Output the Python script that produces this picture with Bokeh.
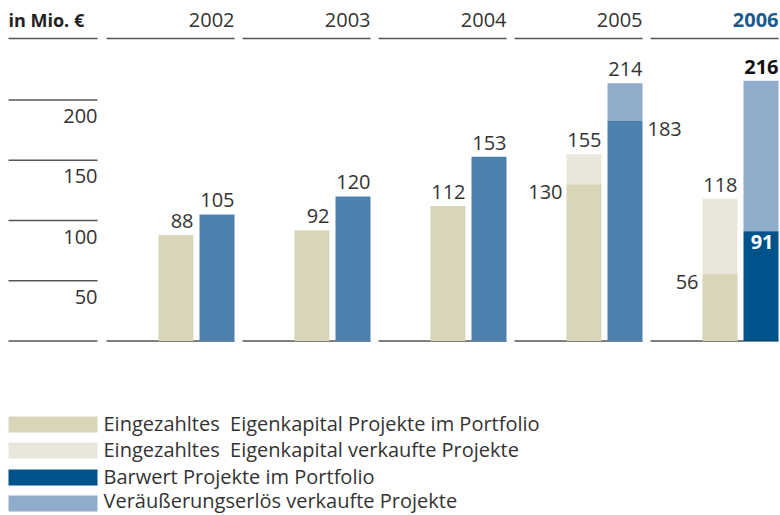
from bokeh.plotting import figure
from bokeh.models import Range1d
from bokeh.core.properties import value
from bokeh.embed import file_html
from bokeh.resources import INLINE

# ---------------- data ----------------
years = ["2002", "2003", "2004", "2005", "2006"]
ek_portfolio = [88, 92, 112, 130, 56]        # Eingezahltes Eigenkapital Projekte im Portfolio
ek_total = [88, 92, 112, 155, 118]           # incl. verkaufte Projekte
bw_portfolio = [105, 120, 153, 183, 91]      # Barwert Projekte im Portfolio
bw_total = [105, 120, 153, 214, 216]         # incl. Veräußerungserlös verkaufte Projekte
ticks = [50, 100, 150, 200]
legend_labels = [
    "Eingezahltes\u00a0 Eigenkapital Projekte im Portfolio",
    "Eingezahltes\u00a0 Eigenkapital verkaufte Projekte",
    "Barwert Projekte im Portfolio",
    "Veräußerungserlös verkaufte Projekte",
]

# ---------------- style ----------------
W, H = 780, 515
BASE_PX = 340.5
PX_PER_UNIT = 1.205
FONT = value("Open Sans")
FS = "20px"
TXT = "#333333"
LINE = "#555555"
C_BEIGE = "#d9d5b8"
C_LBEIGE = "#e9e7da"
C_MBLUE = "#4e81b0"
C_NAVY = "#00528a"
C_LBLUE = "#91abcb"
DY = -8  # compensation for text baseline placement

p = figure(width=W, height=H, output_backend="svg", toolbar_location=None,
           x_range=Range1d(0, W),
           y_range=Range1d(-(H - BASE_PX) / PX_PER_UNIT, BASE_PX / PX_PER_UNIT),
           min_border=0, outline_line_color=None)
p.extra_y_ranges = {"px": Range1d(H, 0)}
p.xaxis.visible = False
p.yaxis.visible = False
p.grid.visible = False
p.background_fill_color = "white"
p.border_fill_color = "white"

SEC_L0, SEC_STEP, SEC_W = 106, 136, 128
BAR_W, BAR_GAP = 35, 6
sec_left = [SEC_L0 + i * SEC_STEP for i in range(len(years))]
sec_right = [l + SEC_W for l in sec_left]
bw_x = [r - BAR_W / 2 for r in sec_right]
ek_x = [r - BAR_W - BAR_GAP - BAR_W / 2 for r in sec_right]
bw_colors = [C_MBLUE, C_MBLUE, C_MBLUE, C_MBLUE, C_NAVY]

# header lines and baselines
p.segment(x0=[8] + sec_left, x1=[97] + sec_right, y0=[38] * 6, y1=[38] * 6,
          y_range_name="px", line_color=LINE, line_width=1.6)
p.segment(x0=[8] * 5 + sec_left, x1=[97] * 5 + sec_right,
          y0=[0] + ticks + [0] * 5, y1=[0] + ticks + [0] * 5,
          line_color=LINE, line_width=1.6)

# tick labels
p.text(x=[97] * len(ticks), y=ticks, text=[str(t) for t in ticks],
       text_align="right", text_baseline="alphabetic", y_offset=24 + DY,
       text_font=FONT, text_font_size=FS, text_color=TXT)

# header texts
p.text(x=[8], y=[27 + DY], text=["in Mio. €"], y_range_name="px",
       text_align="left", text_baseline="alphabetic",
       text_font=FONT, text_font_size="18px", text_font_style="bold", text_color="#222222")
p.text(x=sec_right[:-1], y=[27 + DY] * 4, text=years[:-1], y_range_name="px",
       text_align="right", text_baseline="alphabetic",
       text_font=FONT, text_font_size=FS, text_color=TXT)
p.text(x=[sec_right[-1]], y=[27 + DY], text=[years[-1]], y_range_name="px",
       text_align="right", text_baseline="alphabetic",
       text_font=FONT, text_font_size=FS, text_font_style="bold", text_color="#1a5a8e")

# bars
p.vbar(x=ek_x, width=BAR_W, bottom=ek_portfolio, top=ek_total, fill_color=C_LBEIGE, line_color=None)
p.vbar(x=ek_x, width=BAR_W, bottom=0, top=ek_portfolio, fill_color=C_BEIGE, line_color=None)
p.vbar(x=bw_x, width=BAR_W, bottom=bw_portfolio, top=bw_total, fill_color=C_LBLUE, line_color=None)
p.vbar(x=bw_x, width=BAR_W, bottom=0, top=bw_portfolio, fill_color=bw_colors, line_color=None)

# value labels above bars
ek_right = [x + BAR_W / 2 for x in ek_x]
p.text(x=ek_right + sec_right[:4], y=ek_total + bw_total[:4],
       text=[str(v) for v in ek_total + bw_total[:4]],
       text_align="right", text_baseline="alphabetic", y_offset=-6 + DY,
       text_font=FONT, text_font_size=FS, text_color=TXT)
p.text(x=[sec_right[4]], y=[bw_total[4]], text=[str(bw_total[4])],
       text_align="right", text_baseline="alphabetic", y_offset=-6 + DY,
       text_font=FONT, text_font_size=FS, text_font_style="bold", text_color="#111111")

# side labels for stacked years
ek_left = [x - BAR_W / 2 for x in ek_x]
p.text(x=[ek_left[3] - 4, ek_left[4] - 4], y=[ek_portfolio[3], ek_portfolio[4]],
       text=[str(ek_portfolio[3]), str(ek_portfolio[4])],
       text_align="right", text_baseline="alphabetic", y_offset=16 + DY,
       text_font=FONT, text_font_size=FS, text_color=TXT)
p.text(x=[sec_right[3] + 5], y=[bw_portfolio[3]], text=[str(bw_portfolio[3])],
       text_align="left", text_baseline="alphabetic", y_offset=17 + DY,
       text_font=FONT, text_font_size=FS, text_color=TXT)
p.text(x=[sec_right[4] - 5], y=[bw_portfolio[4]], text=[str(bw_portfolio[4])],
       text_align="right", text_baseline="alphabetic", y_offset=19 + DY,
       text_font=FONT, text_font_size=FS, text_font_style="bold", text_color="white")

# legend
leg_y = [424, 450, 477, 503]
leg_text_y = [431, 457, 484, 508]
p.rect(x=[52.5] * 4, y=leg_y, width=89, height=16, y_range_name="px",
       fill_color=[C_BEIGE, C_LBEIGE, C_NAVY, C_LBLUE], line_color=None)
p.text(x=[103] * 4, y=[v + DY for v in leg_text_y], text=legend_labels, y_range_name="px",
       text_align="left", text_baseline="alphabetic",
       text_font=FONT, text_font_size="20px", text_color=TXT)

open("out.html", "w").write(file_html(p, INLINE))
